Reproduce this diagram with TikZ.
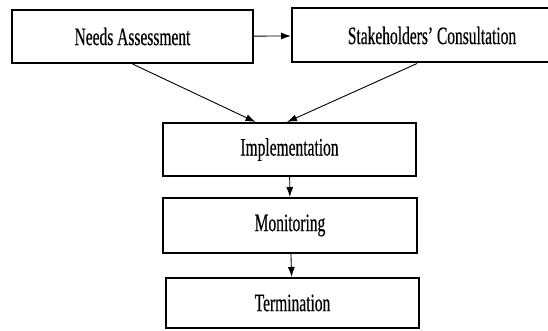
\documentclass[tikz,border=0pt]{standalone}
\usepackage{fontspec}
\setmainfont{Liberation Serif}[FakeStretch=0.62, FakeBold=0.4]
\usetikzlibrary{arrows.meta}

\begin{document}
\begin{tikzpicture}[x=1pt, y=-1pt,
		stage/.style={draw, rectangle, line width=2pt, inner sep=0pt, font=\fontsize{25}{27}\selectfont},
		flow/.style={line width=0.9pt, -{Latex[length=10pt, width=7pt]}}]
			\useasboundingbox (0, 0) rectangle (548, 331);
			\draw (132.5, 36.5) 	node[stage, minimum width=241pt, minimum height=53pt] 	(needs) 		{Needs Assessment};
			\draw (432, 35.5) 	node[stage, minimum width=280pt, minimum height=54pt] 	(consult) 	{Stakeholders’ Consultation};
			\draw (289.5, 149.5) 	node[stage, minimum width=253pt, minimum height=53pt] 	(impl) 		{Implementation};
			\draw (290, 225.5) 	node[stage, minimum width=254pt, minimum height=55pt] 	(monitor) 	{Monitoring};
			\draw (292.5, 303) 	node[stage, minimum width=253pt, minimum height=50pt] 	(term) 		{Termination};
	
			\draw[flow] (needs) -- (consult);
			\draw[flow] (needs.south) -- ([xshift=-34pt]impl.north);
			\draw[flow] ([xshift=-15pt]consult.south) -- ([xshift=-2.5pt]impl.north);
			\draw[flow] (impl) -- (monitor);
			\draw[flow] (monitor) -- (term);
		\end{tikzpicture}
\end{document}
